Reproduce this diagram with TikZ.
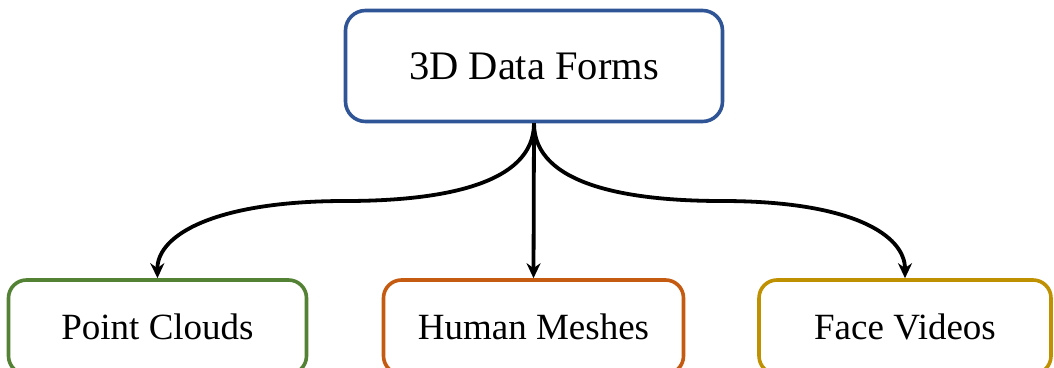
\documentclass[tikz,border=0pt]{standalone}
\usepackage{fontspec}
\setmainfont{Liberation Serif}
\usetikzlibrary{arrows.meta}
\definecolor{topblue}{HTML}{2F5597}
\definecolor{leafgreen}{HTML}{548235}
\definecolor{leaforange}{HTML}{C55A11}
\definecolor{leafgold}{HTML}{BF9000}
\tikzset{
  formbox/.style={draw, line width=3.6pt, rounded corners=18pt, fill=white,
    inner sep=0pt, align=center},
  link/.style={line width=3.8pt, -{Stealth[length=15pt,width=14pt]}},
}
\begin{document}
\begin{tikzpicture}[x=1pt,y=-1pt]
  \useasboundingbox (0,0) rectangle (1054,367);
  \clip (0,0) rectangle (1054,367);
  % root
  \node[formbox, draw=topblue, minimum width=377pt, minimum height=111pt,
        rounded corners=20pt, font=\fontsize{40.5}{44}\selectfont]
        (root) at (534,66) {3D Data Forms};
  % leaves (they run past the lower edge)
  \node[formbox, draw=leafgreen, minimum width=298pt, minimum height=94pt,
        font=\fontsize{37}{40}\selectfont]
        (pc) at (157.5,327) {Point Clouds};
  \node[formbox, draw=leaforange, minimum width=300pt, minimum height=94pt,
        font=\fontsize{37}{40}\selectfont]
        (hm) at (533.5,327) {Human Meshes};
  \node[formbox, draw=leafgold, minimum width=292pt, minimum height=94pt,
        font=\fontsize{37}{40}\selectfont]
        (fv) at (905,327) {Face Videos};
  % connectors
  \coordinate (mid1) at (345,201);
  \coordinate (mid2) at (722,201);
  \draw[link] (root.south) .. controls (534,185) and (440,201) .. (mid1)
    .. controls (215,201) and (157,235) .. (pc.north);
  \draw[link] (root.south) -- (hm.north);
  \draw[link] (root.south) .. controls (534,185) and (628,201) .. (mid2)
    .. controls (852,201) and (905,235) .. (fv.north);
\end{tikzpicture}
\end{document}
